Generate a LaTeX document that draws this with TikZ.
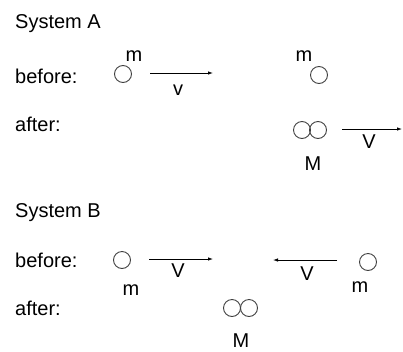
\documentclass[tikz,border=0pt]{standalone}
\usepackage{fontspec}
\setmainfont{Liberation Sans}
\usetikzlibrary{arrows.meta}
\begin{document}
\begin{tikzpicture}[x=1pt,y=-1pt,
  lbl/.style={inner sep=0pt,font=\fontsize{20}{24}\selectfont},
  ball/.style={circle,draw=black!75,line width=0.9pt,minimum size=17pt,inner sep=0pt},
  vel/.style={line width=0.8pt,-{Latex[length=5pt,width=3.5pt]}}]
\useasboundingbox (0,0) rectangle (403,351);
% System A
\node[lbl,anchor=base west] (sa) at (15,28) {System A};
\node[lbl,anchor=base west] (ba) at (15,83) {before:};
\node[lbl,anchor=base west] (aa) at (15,131) {after:};
\node[ball] (a1) at (123,74) {};
\node[lbl,anchor=base] (ma1) at (134,61) {m};
\coordinate (a1s) at (150,73);
\coordinate (a1e) at (213,73);
\draw[vel] (a1s) -- (a1e);
\node[lbl,anchor=base] (va) at (178,95) {v};
\node[lbl,anchor=base] (ma2) at (304,61) {m};
\node[ball] (a2) at (319,75) {};
\node[ball] (a3l) at (302,130) {};
\node[ball] (a3r) at (318,130) {};
\node[lbl,anchor=base] (Ma) at (313,170) {M};
\coordinate (a3s) at (342,129);
\coordinate (a3e) at (402,129);
\draw[vel] (a3s) -- (a3e);
\node[lbl,anchor=base] (Va) at (369,148) {V};
% System B
\node[lbl,anchor=base west] (sb) at (15,217) {System B};
\node[lbl,anchor=base west] (bb) at (15,267) {before:};
\node[lbl,anchor=base west] (ab) at (15,315) {after:};
\node[ball] (b1) at (122,260) {};
\node[lbl,anchor=base] (mb1) at (131,295) {m};
\coordinate (b1s) at (149,259);
\coordinate (b1e) at (213,259);
\draw[vel] (b1s) -- (b1e);
\node[lbl,anchor=base] (vb1) at (178,277) {V};
\coordinate (b2s) at (337,260);
\coordinate (b2e) at (273,260);
\draw[vel] (b2s) -- (b2e);
\node[lbl,anchor=base] (vb2) at (307,280) {V};
\node[ball] (b2) at (368,262) {};
\node[lbl,anchor=base] (mb2) at (360,292) {m};
\node[ball] (b3l) at (232,308) {};
\node[ball] (b3r) at (249,308) {};
\node[lbl,anchor=base] (Mb) at (241,347) {M};
\end{tikzpicture}
\end{document}
